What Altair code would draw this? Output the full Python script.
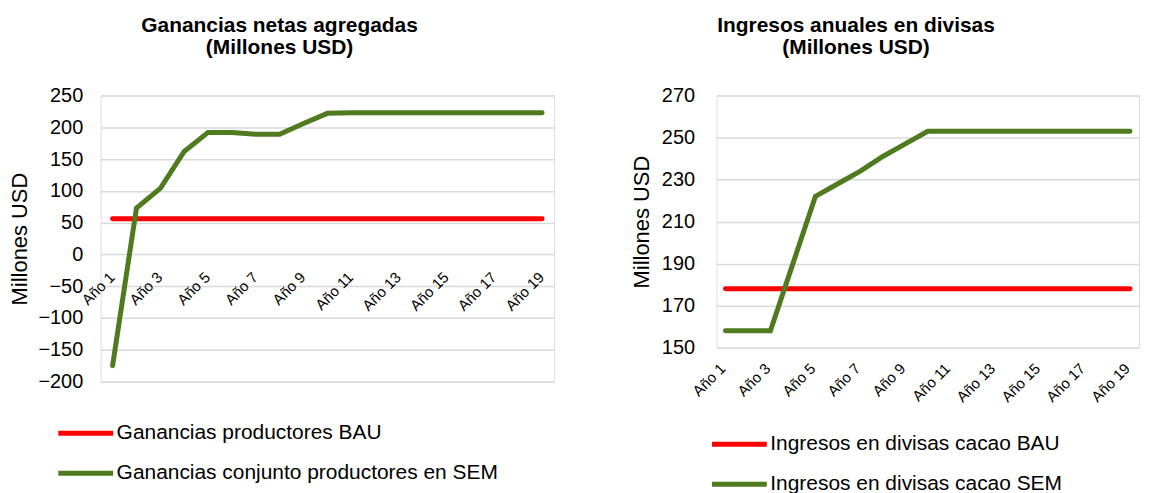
import altair as alt
import pandas as pd

years = ["Año 1", "Año 2", "Año 3", "Año 4", "Año 5", "Año 6", "Año 7", "Año 8", "Año 9", "Año 10",
         "Año 11", "Año 12", "Año 13", "Año 14", "Año 15", "Año 16", "Año 17", "Año 18", "Año 19"]

# Left chart: Ganancias netas agregadas (Millones USD)
left_bau_name = "Ganancias productores BAU"
left_sem_name = "Ganancias conjunto productores en SEM"
left_bau = [56] * 19
left_sem = [-175, 73, 104, 162, 192, 192, 189, 189, 206, 222,
            223, 223, 223, 223, 223, 223, 223, 223, 223]
left_ticks = [-200, -150, -100, -50, 0, 50, 100, 150, 200, 250]

# Right chart: Ingresos anuales en divisas (Millones USD)
right_bau_name = "Ingresos en divisas cacao BAU"
right_sem_name = "Ingresos en divisas cacao SEM"
right_bau = [178] * 19
right_sem = [158, 158, 158, 190, 222, 228, 234, 241, 247, 253,
             253, 253, 253, 253, 253, 253, 253, 253, 253]
right_ticks = [150, 170, 190, 210, 230, 250, 270]

RED = "#FF0000"
GREEN = "#4F7A1E"
FONT = "Liberation Sans"


def long_df(bau_name, bau, sem_name, sem):
    rows = []
    for y, v in zip(years, bau):
        rows.append({"year": y, "series": bau_name, "value": v, "k": 0})
    for y, v in zip(years, sem):
        rows.append({"year": y, "series": sem_name, "value": v, "k": 1})
    return pd.DataFrame(rows)


def make(df, names, ydomain, yticks, title, w, h, xpad, xoffset, title_dx,
         legend_x, legend_y, row_pad, label_pad_x, label_off_x, y_label_pad, y_title_pad):
    return alt.Chart(df).mark_line(strokeWidth=5, strokeCap="round").encode(
        x=alt.X("year:N", sort=years,
                scale=alt.Scale(type="point", padding=xpad),
                axis=alt.Axis(values=years[::2], labelAngle=-45, labelAlign="right",
                              labelBaseline="top", labelFontSize=15, labelPadding=label_pad_x,
                              labelOffset=label_off_x,
                              labelOverlap=False, offset=xoffset, domain=False, ticks=False,
                              grid=False, title=None, labelColor="#000000", labelFont=FONT)),
        y=alt.Y("value:Q",
                scale=alt.Scale(domain=ydomain, nice=False, zero=False),
                axis=alt.Axis(values=yticks, title="Millones USD", titleFontSize=22,
                              titleFontWeight="normal", titleFont=FONT, titleColor="#000000",
                              labelFontSize=20, labelFont=FONT, labelColor="#000000",
                              labelPadding=y_label_pad, titlePadding=y_title_pad,
                              domain=False, ticks=False,
                              grid=True, gridColor="#D9D9D9", gridWidth=1.5)),
        color=alt.Color("series:N",
                        scale=alt.Scale(domain=names, range=[RED, GREEN]),
                        legend=alt.Legend(orient="none", legendX=legend_x, legendY=legend_y,
                                          direction="vertical", title=None,
                                          symbolType="stroke", symbolSize=3025,
                                          symbolStrokeWidth=5, labelFontSize=21,
                                          labelFont=FONT, labelColor="#000000",
                                          labelOffset=1, rowPadding=row_pad, padding=0,
                                          labelLimit=600)),
        order=alt.Order("k:Q"),
    ).properties(
        width=w, height=h,
        title=alt.TitleParams(text=title, fontSize=21, font=FONT, fontWeight="bold",
                              color="#000000", anchor="middle", frame="group",
                              dx=title_dx, lineHeight=22, offset=28),
    )


left = make(long_df(left_bau_name, left_bau, left_sem_name, left_sem),
            [left_bau_name, left_sem_name], [-200, 250], left_ticks,
            ["Ganancias netas agregadas", "(Millones USD)"],
            455, 287, 0.5, -127.6, -48, -45, 309, -7, 15, -6, 18, 6)

right = make(long_df(right_bau_name, right_bau, right_sem_name, right_sem),
             [right_bau_name, right_sem_name], [150, 270], right_ticks,
             ["Ingresos anuales en divisas", "(Millones USD)"],
             424, 253, 0.4, 0, -72, -7, 320, -4, 13, -8, 22, 8)

chart = alt.hconcat(left, right, spacing=75).resolve_scale(color="independent").properties(
    padding={"left": 0, "top": 5, "right": 0, "bottom": 0}
).configure_view(stroke=None).configure(font=FONT)

chart.save("out.html", embed_options={"renderer": "svg", "actions": False})
